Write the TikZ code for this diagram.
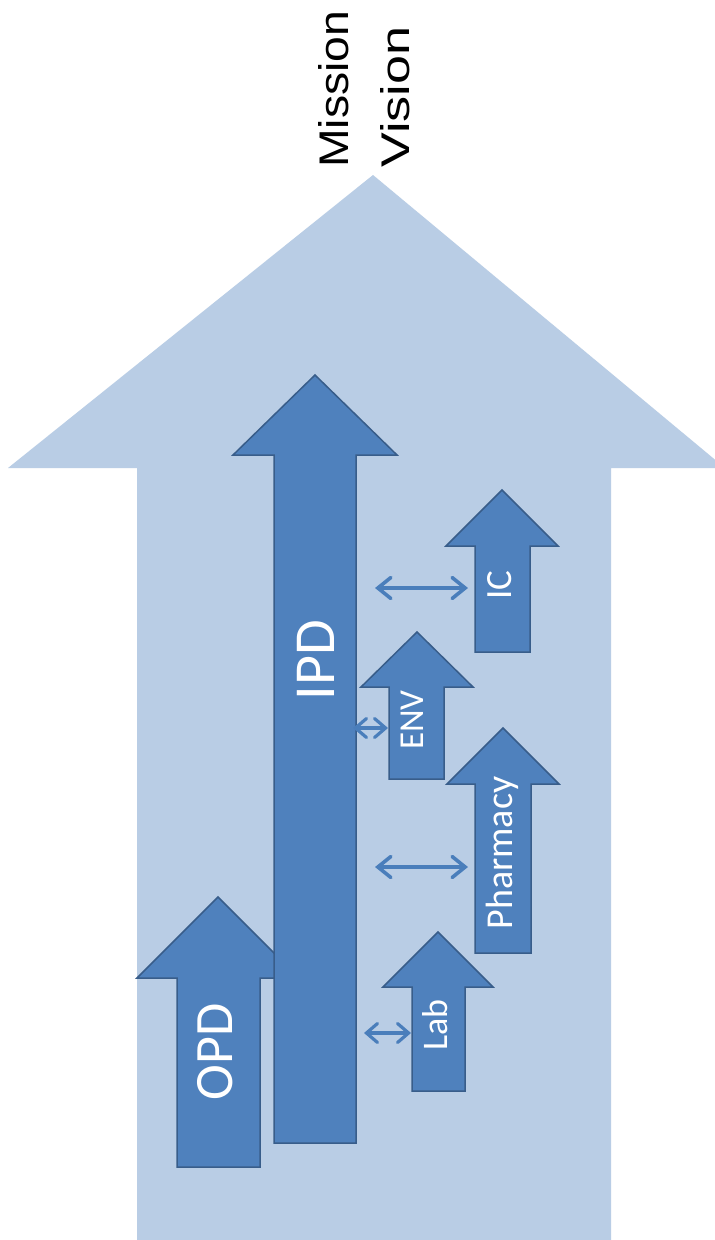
\documentclass[tikz,border=0pt]{standalone}
\usepackage{fontspec}
\setmainfont{Carlito}
\newfontfamily\headfont{Liberation Sans}
\usetikzlibrary{arrows.meta}

\definecolor{paleblue}{HTML}{B9CDE5}
\definecolor{unitblue}{HTML}{4F81BD}
\definecolor{unitedge}{HTML}{385D8A}
\definecolor{linkblue}{HTML}{4A7EBB}

\tikzset{
  bigarrow/.style={fill=paleblue, draw=none},
  unitarrow/.style={fill=unitblue, draw=unitedge, line width=1.5pt, line join=miter},
  unitlabel/.style={text=white, rotate=90, anchor=base, inner sep=0pt},
  goallabel/.style={text=black, rotate=90, anchor=south west, inner sep=0pt},
  link/.style={draw=linkblue, line width=3.6pt,
    {Straight Barb[length=13pt,width=21pt,line cap=round]}-{Straight Barb[length=13pt,width=21pt,line cap=round]}},
  shortlink/.style={draw=linkblue, line width=3.2pt,
    {Straight Barb[length=11pt,width=19pt,line cap=round]}-{Straight Barb[length=11pt,width=19pt,line cap=round]}},
}

% upward block arrow: style, tip x, tip y, half head width, head base y, shaft left, shaft right, bottom y
\newcommand\uparrowshape[8]{%
  \path[#1] (#2,#3) -- (#2+#4,#5) -- (#7,#5) -- (#7,#8) -- (#6,#8) -- (#6,#5) -- (#2-#4,#5) -- cycle;}

\begin{document}
\begin{tikzpicture}[x=1pt,y=-1pt]
\useasboundingbox (0,0) rectangle (715,1240);
\fill[white] (0,0) rectangle (715,1240);

% the overall direction arrow
\path[bigarrow] (373,175) -- (725,468) -- (611,468) -- (611,1250) -- (137,1250)
  -- (137,468) -- (8,468) -- cycle;

% departments
\uparrowshape{unitarrow}{218}{897}{81}{978}{177}{260}{1167}
\uparrowshape{unitarrow}{315}{375}{82}{455}{274}{356}{1143}
\uparrowshape{unitarrow}{438}{932}{55}{987}{412}{465}{1091}
\uparrowshape{unitarrow}{503}{728}{56}{784}{475}{531}{953}
\uparrowshape{unitarrow}{417}{632}{56}{687}{389}{444}{779}
\uparrowshape{unitarrow}{502}{490}{56}{546}{475}{530}{652}

% labels
\node[goallabel] (mission) at (349,168) {\headfont\resizebox{157pt}{30pt}{Mission}};
\node[goallabel] (vision) at (410,168) {\headfont\resizebox{141pt}{29pt}{Vision}};

\node[unitlabel, font=\fontsize{54}{60}\selectfont] (opd) at (232,1052) {OPD};
\node[unitlabel, font=\fontsize{58}{64}\selectfont] (ipd) at (334,660) {IPD};
\node[unitlabel, font=\fontsize{36}{40}\selectfont] (lab) at (447,1025) {Lab};
\node[unitlabel, font=\fontsize{38}{40}\selectfont] (pharmacy) at (512,853) {Pharmacy};
\node[unitlabel, font=\fontsize{35}{40}\selectfont] (env) at (423,720) {ENV};
\node[unitlabel, font=\fontsize{37}{40}\selectfont] (ic) at (511,585) {IC};

% links between IPD and the support units
\coordinate (ipd-ic) at (375,588);
\coordinate (ic-in) at (468,588);
\coordinate (ipd-ph) at (375,867);
\coordinate (ph-in) at (468,867);
\coordinate (ipd-env) at (353,728);
\coordinate (env-in) at (388,728);
\coordinate (ipd-lab) at (364,1033);
\coordinate (lab-in) at (411,1033);

\draw[link] (ipd-ic) -- (ic-in);
\draw[link] (ipd-ph) -- (ph-in);
\draw[shortlink] (ipd-env) -- (env-in);
\draw[shortlink] (ipd-lab) -- (lab-in);
\end{tikzpicture}
\end{document}
